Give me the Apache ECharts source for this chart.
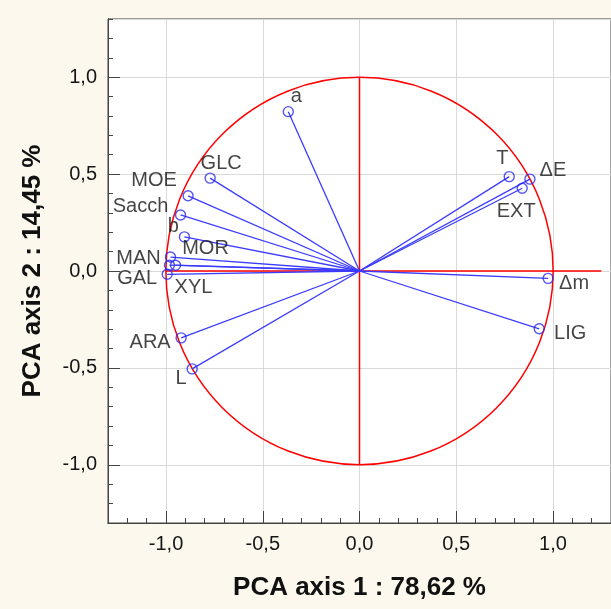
<!DOCTYPE html>
<html>
<head>
<meta charset="utf-8">
<script src="https://cdn.jsdelivr.net/npm/echarts@6/dist/echarts.min.js"></script>
<style>
  html, body { margin: 0; padding: 0; background: #fdf8ee; }
  #chart { width: 611px; height: 609px; }
</style>
</head>
<body>
<div id="chart"></div>
<script>
/* variables of the PCA correlation circle */
var varNames = ['a', 'GLC', 'MOE', 'Sacch', 'b', 'MOR', 'MAN', 'XYL', 'GAL', 'ARA', 'L', 'T', '\u0394E', 'EXT', '\u0394m', 'LIG'];
var axis1 = [-0.368, -0.772, -0.886, -0.925, -0.905, -0.951, -0.977, -0.982, -0.994, -0.922, -0.865, 0.774, 0.881, 0.841, 0.975, 0.929];
var axis2 = [0.822, 0.479, 0.388, 0.289, 0.176, 0.030, 0.072, 0.030, -0.017, -0.345, -0.505, 0.487, 0.474, 0.427, -0.038, -0.298];

/* axis titles */
var axis1Title = 'PCA axis 1 : 78,62 %';
var axis2Title = 'PCA axis 2 : 14,45 %';

/* label placement (style only) : offset of label centre from the point, px */
var labelOffset = {
    'a': [8, -15], 'GLC': [11, -15], 'MOE': [-34, -15], 'Sacch': [-40, -8],
    'b': [-11, -10], 'MOR': [30, -17], 'MAN': [-32, 1], 'XYL': [24, 22],
    'GAL': [-30, 4], 'ARA': [-31, 5], 'L': [-11, 10], 'T': [-7, -18],
    '\u0394E': [23, -9], 'EXT': [-6, 23], '\u0394m': [26, 5], 'LIG': [31, 5]
};

var font = "'Liberation Sans', Arial, sans-serif";
var fmt = function (v) { return v.toFixed(1).replace('.', ','); };

var points = [], vectors = [];
varNames.forEach(function (n, i) {
    vectors.push([axis1[i], axis2[i]]);
    points.push({
        name: n,
        value: [axis1[i], axis2[i]],
        label: { offset: labelOffset[n] || [0, 0] }
    });
});

var myChart = echarts.init(document.getElementById('chart'));

var majorAxis = function (name, pos, gap) {
    return {
        type: 'value', min: -1.3, max: 1.3, splitNumber: 5, position: pos,
        name: name, nameLocation: 'middle', nameGap: gap,
        nameTextStyle: { fontFamily: font, fontSize: 26, fontWeight: 'bold', color: '#111' },
        axisLine: { show: true, onZero: false, lineStyle: { color: '#444', width: 1 } },
        axisTick: { show: true, inside: true, length: 12, lineStyle: { color: '#444' } },
        axisLabel: { fontFamily: font, fontSize: 20, color: '#151515', margin: 11,
            showMinLabel: false, showMaxLabel: false, formatter: fmt },
        splitLine: { show: true, lineStyle: { color: '#d9d9d9', width: 1 } }
    };
};
var minorAxis = function (pos) {
    return {
        type: 'value', min: -1.3, max: 1.3, interval: 0.1, position: pos,
        axisLine: { show: true, onZero: false, lineStyle: { color: '#444', width: 1 } },
        axisTick: { show: true, inside: true, length: 5, lineStyle: { color: '#444' } },
        axisLabel: { show: false },
        splitLine: { show: false }
    };
};

var option = {
    animation: false,
    backgroundColor: '#fdf8ee',
    grid: { left: 108, top: 19, right: 0, bottom: 86, show: true,
        backgroundColor: '#ffffff', borderColor: '#444', borderWidth: 1 },
    xAxis: [majorAxis(axis1Title, 'bottom', 52), minorAxis('bottom')],
    yAxis: [majorAxis(axis2Title, 'left', 62), minorAxis('left')],
    series: [
        {
            /* unit circle and the two red axes */
            type: 'custom',
            data: [[0, 0]],
            silent: true,
            z: 2,
            renderItem: function (params, api) {
                var c = api.coord([0, 0]);
                var r = ((api.coord([1, 0])[0] - c[0]) + (c[1] - api.coord([0, 1])[1])) / 2;
                var h0 = api.coord([-1, 0]), h1 = api.coord([1.25, 0]);
                var v0 = api.coord([0, -1]), v1 = api.coord([0, 1]);
                var red = { stroke: '#ff0000', lineWidth: 1.5, fill: null };
                return {
                    type: 'group',
                    children: [
                        { type: 'circle', shape: { cx: c[0], cy: c[1], r: r }, style: red },
                        { type: 'line', shape: { x1: h0[0], y1: h0[1], x2: h1[0], y2: h1[1] }, style: red },
                        { type: 'line', shape: { x1: v0[0], y1: v0[1], x2: v1[0], y2: v1[1] }, style: red }
                    ]
                };
            }
        },
        {
            /* vectors from the origin */
            type: 'custom',
            data: vectors,
            silent: true,
            z: 3,
            renderItem: function (params, api) {
                var o = api.coord([0, 0]);
                var p = api.coord([api.value(0), api.value(1)]);
                return { type: 'line', shape: { x1: o[0], y1: o[1], x2: p[0], y2: p[1] },
                    style: { stroke: '#3b3bff', lineWidth: 1.3 } };
            }
        },
        {
            type: 'scatter',
            data: points,
            z: 4,
            symbol: 'circle',
            symbolSize: 10,
            itemStyle: { color: 'rgba(255,255,255,0)', borderColor: '#2a2aee', borderWidth: 1.4 },
            label: {
                show: true, position: 'inside', formatter: '{b}',
                fontFamily: font, fontSize: 20, color: '#151515'
            }
        }
    ]
};
myChart.setOption(option);
</script>
</body>
</html>
